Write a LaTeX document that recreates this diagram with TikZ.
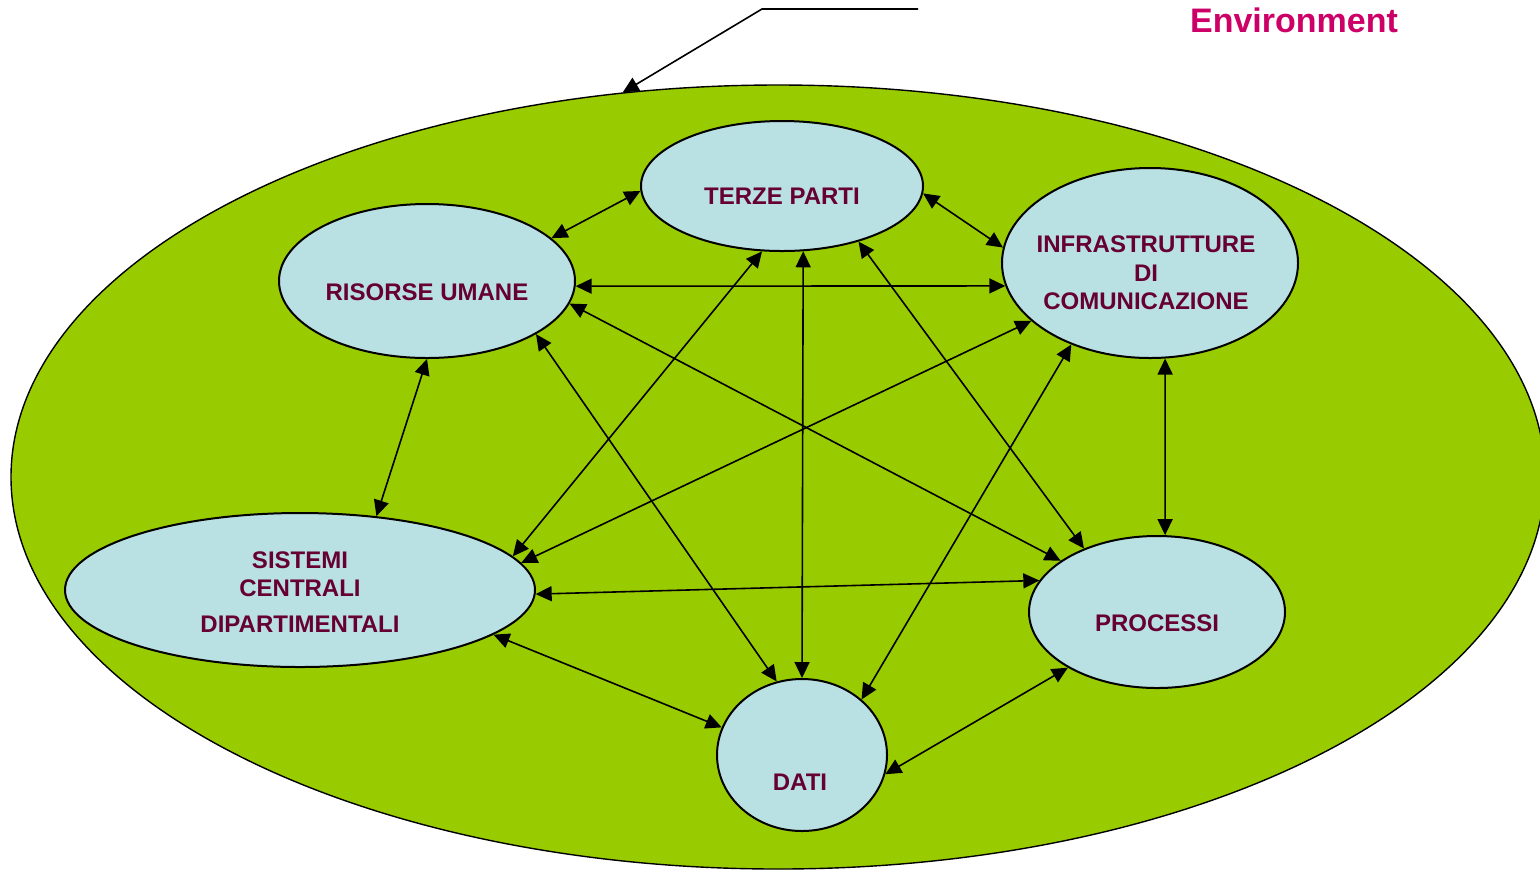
\documentclass[tikz,border=0pt]{standalone}
\usepackage{fontspec}
\setmainfont{Liberation Sans}
\usetikzlibrary{shapes.geometric,arrows.meta}
\definecolor{envgreen}{HTML}{99CC00}
\definecolor{bubblefill}{HTML}{B9E0E3}
\definecolor{labeltxt}{HTML}{660033}
\definecolor{envtxt}{HTML}{CC0066}
\begin{document}
\begin{tikzpicture}[x=0.5pt,y=-0.5pt,
  bubble/.style={ellipse, draw=black, line width=1pt, fill=bubblefill, inner sep=0pt},
  lbl/.style={font=\bfseries\fontsize{12}{14.25}\selectfont, text=labeltxt, align=center, inner sep=0pt},
  link/.style={{Triangle[length=8pt,width=7.5pt]}-{Triangle[length=8pt,width=7.5pt]}, line width=0.8pt},
]
\useasboundingbox (0,0) rectangle (1540,869);
\clip (0,0) rectangle (1540,869);

% the surrounding environment
\node[ellipse, draw=black, line width=0.7pt, fill=envgreen, inner sep=0pt,
      minimum width=767pt, minimum height=392pt] (env) at (778,477) {};

% the six components
\node[bubble, minimum width=141pt, minimum height=65pt] (tp)   at (782,186) {};
\node[bubble, minimum width=148pt, minimum height=77pt] (ru)   at (427,281) {};
\node[bubble, minimum width=148pt, minimum height=95pt] (inf)  at (1150,263) {};
\node[bubble, minimum width=235pt, minimum height=77pt] (sis)  at (300,590) {};
\node[bubble, minimum width=128pt, minimum height=76pt] (proc) at (1157,612) {};
\node[bubble, minimum width=85pt,  minimum height=76pt] (dati) at (802,755) {};

\node[lbl] (tptext)   at ([yshift=-5pt]tp.center)   {TERZE PARTI};
\node[lbl] (rutext)   at ([yshift=-5.5pt]ru.center) {RISORSE UMANE};
\node[lbl] (inftext)  at ([xshift=-2pt,yshift=-5pt]inf.center) {INFRASTRUTTURE\\DI\\COMUNICAZIONE};
\node[lbl] (sistext)  at ([yshift=-1pt]sis.center)  {SISTEMI\\CENTRALI\\[3.5pt]DIPARTIMENTALI};
\node[lbl] (proctext) at ([yshift=-5.5pt]proc.center) {PROCESSI};
\node[lbl] (datitext) at ([xshift=-1pt,yshift=-13.5pt]dati.center) {DATI};

% every pair of components is linked both ways
\draw[link] (ru.19.3)   -- (tp.182.5);
\draw[link] (tp.-3)     -- (inf.174.9);
\draw[link] (ru.-2.3)   -- (inf.189.3);
\draw[link] (ru.-90)    -- (sis.44);
\draw[link] (tp.253.1)  -- (sis.9.5);
\draw[link] (tp.-72.5)  -- (dati.90);
\draw[link] (tp.-36.1)  -- (proc.139.1);
\draw[link] (ru.-9.5)   -- (proc.152.5);
\draw[link] (ru.-26.8)  -- (dati.109.6);
\draw[link] (inf.206.6) -- (sis.7);
\draw[link] (inf.226.4) -- (dati.43.9);
\draw[link] (inf.-81.6) -- (proc.84.7);
\draw[link] (sis.-1.7)  -- (proc.165.7);
\draw[link] (sis.-13)   -- (dati.161.6);
\draw[link] (dati.-13.5) -- (proc.212.8);

% callout for the environment
\coordinate (calloutA) at (918,9);
\coordinate (calloutB) at (762,9);
\draw[line width=0.8pt, -{Triangle[length=8pt,width=7.5pt]}] (calloutA) -- (calloutB) -- (env.112.6);
\node[font=\bfseries\fontsize{17}{20}\selectfont, text=envtxt, inner sep=0pt] (envlabel) at (1294,20) {Environment};
\end{tikzpicture}
\end{document}
